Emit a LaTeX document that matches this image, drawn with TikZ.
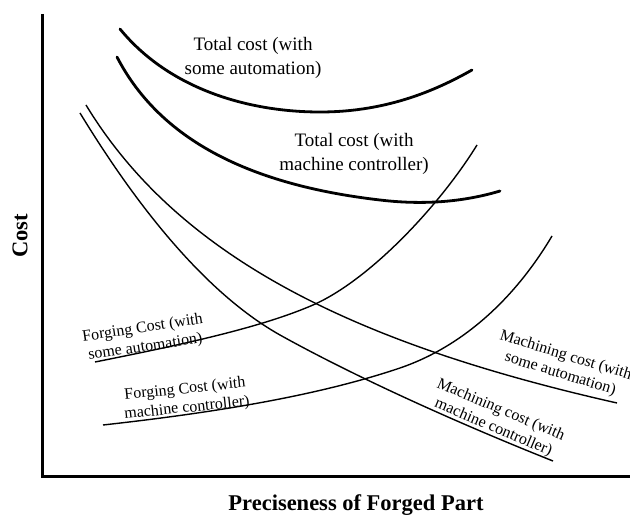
\documentclass[tikz,border=0pt]{standalone}
\usepackage{fontspec}
\setmainfont{Liberation Serif}
\begin{document}
\begin{tikzpicture}[x=1pt,y=-1pt,
  total/.style={line width=2.8pt, line cap=round},
  part/.style={line width=1.4pt},
  axis/.style={line width=3pt},
  biglabel/.style={font=\fontsize{19}{23.5}\selectfont, align=center, inner sep=0pt},
  smalllabel/.style={font=\fontsize{16}{19}\selectfont, align=center, inner sep=0pt},
  axislabel/.style={font=\bfseries\fontsize{22.5}{26}\selectfont, inner sep=0pt}]
\useasboundingbox (0,0) rectangle (630,516);

% axes
\coordinate (ytop) at (42,14);
\coordinate (origin) at (42,476);
\coordinate (xend) at (630,476);
\draw[axis] (ytop) -- (origin) -- (xend);

% total cost curves
\draw[total] (120,29) .. controls (170,90) and (250,112) .. (320,112)
  .. controls (390,112) and (440,88) .. (472,70);
\draw[total] (117,57) .. controls (160,140) and (250,185) .. (380,200)
  .. controls (430,206) and (470,200) .. (500,191);

% forging cost curves
\draw[part] (95,362) .. controls (180,345) and (260,328) .. (313,305)
  .. controls (370,280) and (440,205) .. (477,145);
\draw[part] (103,425) .. controls (220,412) and (320,395) .. (400,368)
  .. controls (470,344) and (520,290) .. (552,236);

% machining cost curves
\draw[part] (86,105) .. controls (180,260) and (360,345) .. (617,403);
\draw[part] (80,113) .. controls (130,195) and (200,290) .. (280,335)
  .. controls (350,374) and (450,420) .. (553,461);

% labels
\node[biglabel] (tauto) at (253,58) {Total cost (with\\some automation)};
\node[biglabel] (tmc) at (354,154) {Total cost (with\\machine controller)};
\node[smalllabel, rotate=8.5] (fauto) at (144,338) {Forging Cost (with\\some automation)};
\node[smalllabel, rotate=6] (fmc) at (186,399) {Forging Cost (with\\machine controller)};
\node[smalllabel, rotate=-17] (mauto) at (563,365) {Machining cost (with\\some automation)};
\node[smalllabel, rotate=-23] (mmc) at (497,419) {Machining cost (with\\machine controller)};
\node[axislabel] (xlabel) at (356,505) {Preciseness of Forged Part};
\node[axislabel, rotate=90] (ylabel) at (20,236) {Cost};
\end{tikzpicture}
\end{document}
